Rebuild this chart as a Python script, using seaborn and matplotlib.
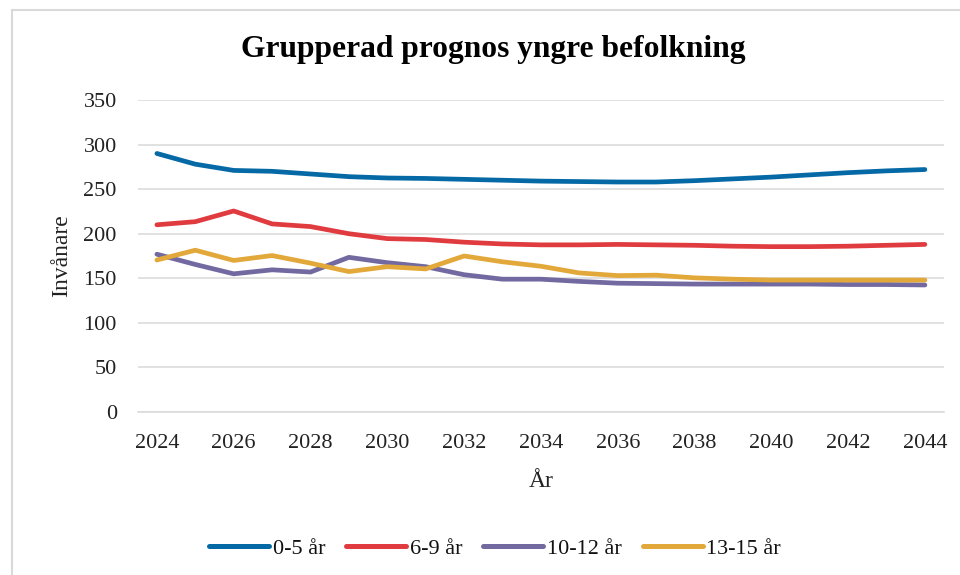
import pandas as pd
import matplotlib
matplotlib.use("Agg")
import matplotlib.pyplot as plt
from matplotlib.lines import Line2D
from matplotlib.patches import Rectangle
import seaborn as sns

# Data
years = list(range(2024, 2045))
age_0_5 = [290, 278, 271, 270, 267, 264, 262.5, 262, 261, 260, 259,
           258.5, 258, 258, 259.5, 261.5, 263.5, 266, 268.5, 270.5, 272]
age_6_9 = [210, 213.5, 225.5, 211, 208, 200, 194.5, 193.5, 190.5, 188.5, 187.5,
           187.5, 188, 187.5, 187, 186, 185.5, 185.5, 186, 187, 188]
age_10_12 = [177, 165.5, 155, 159.5, 157, 173.5, 167.5, 163, 154, 149, 149,
             146.5, 144.5, 144, 143.5, 143.5, 143.5, 143.5, 143, 143, 142.5]
age_13_15 = [170.5, 181.5, 170, 175.5, 167, 157.5, 163, 160.5, 175, 168.5, 163.5,
             156, 153, 153.5, 150.5, 149, 148, 148, 148, 148, 148]
groups = ["0-5 år", "6-9 år", "10-12 år", "13-15 år"]
colors = ["#0569A6", "#E03C40", "#7169A0", "#E3A83A"]

df = pd.DataFrame({"År": years * 4,
                   "Invånare": age_0_5 + age_6_9 + age_10_12 + age_13_15,
                   "Grupp": [g for g in groups for _ in years]})

sns.set_style("white")
plt.rcParams["font.family"] = ["Liberation Serif", "DejaVu Serif"]
plt.rcParams["text.color"] = "#111111"

fig = plt.figure(figsize=(9.6, 5.75), dpi=100)
ax = fig.add_axes([137.7 / 960, 1 - 412 / 575, 806.4 / 960, 312 / 575])

# thin grey frame around the chart (only top and left edges visible)
fig.patches.append(Rectangle((12 / 960, -0.05), 1, 1.05 - 10 / 575, transform=fig.transFigure,
                             fill=False, edgecolor="#D9D9D9", linewidth=1.5))

sns.lineplot(data=df, x="År", y="Invånare", hue="Grupp", palette=colors,
             linewidth=3.4, ax=ax, legend=False, solid_capstyle="round")

ax.set_xlim(2023.5, 2044.5)
ax.set_ylim(0, 350)
ax.set_xticks(range(2024, 2045, 2))
ax.set_yticks(range(0, 351, 50))
ax.yaxis.grid(True, color="#D9D9D9", linewidth=1.1)
ax.set_axisbelow(True)
for s in ["left", "right", "top"]:
    ax.spines[s].set_visible(False)
ax.spines["bottom"].set_color("#D9D9D9")
ax.spines["bottom"].set_linewidth(1.1)
ax.tick_params(axis="x", length=0, pad=16, labelsize=16, colors="#222222")
ax.tick_params(axis="y", length=0, pad=15, labelsize=16, colors="#222222")

ax.set_xlabel("År", fontsize=17, color="#222222", labelpad=13)
ax.set_ylabel("Invånare", fontsize=17, color="#222222", labelpad=8)
fig.text(493 / 960, 1 - 49 / 575, "Grupperad prognos yngre befolkning",
         ha="center", va="center", fontsize=22.7, fontweight="bold", color="black")

handles = [Line2D([], [], color=c, linewidth=3.6, solid_capstyle="round") for c in colors]
fig.legend(handles, groups, loc="center", bbox_to_anchor=(495 / 960, 1 - 549 / 575),
           ncol=4, frameon=False, fontsize=16, handlelength=2.7, handletextpad=0.15,
           columnspacing=0.95)

fig.savefig("out.png", dpi=100)
